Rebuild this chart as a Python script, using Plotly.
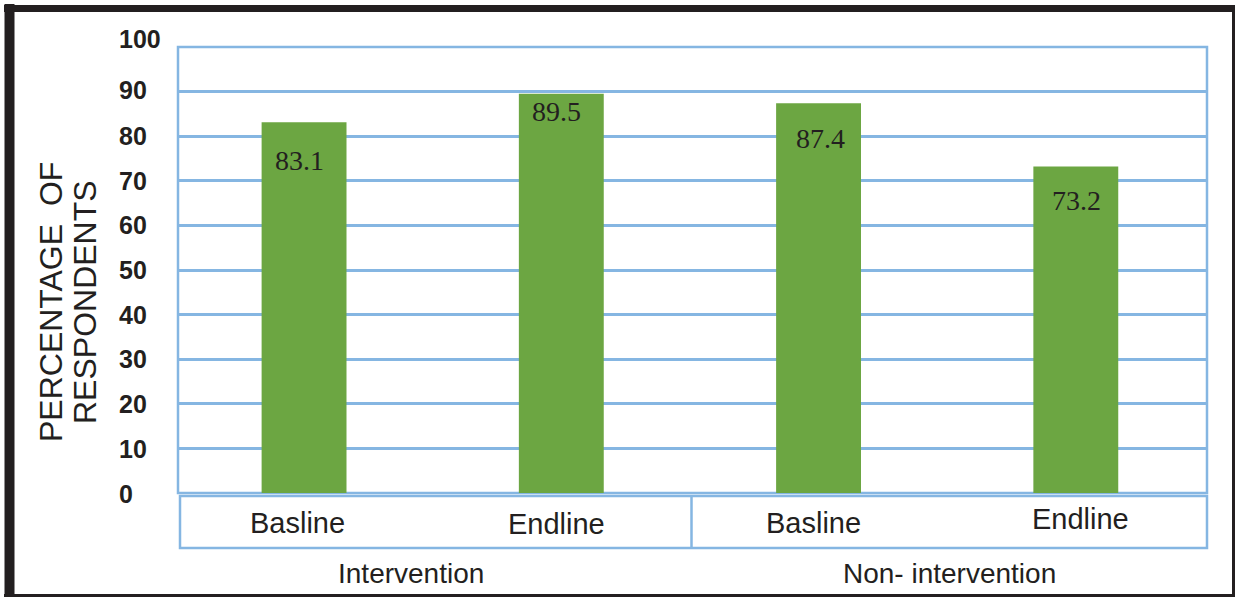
import plotly.graph_objects as go

groups = ["Intervention", "Intervention", "Non- intervention", "Non- intervention"]
phases = ["Basline", "Endline", "Basline", "Endline"]
values = [83.1, 89.5, 87.4, 73.2]
label_text = ["83.1", "89.5", "87.4", "73.2"]
y_ticks = [0, 10, 20, 30, 40, 50, 60, 70, 80, 90, 100]
title_lines = ["PERCENTAGE  OF", "RESPONDENTS"]

# fine placement tweaks (pixels)
label_dx = [-5, -5, 2, 1]
label_dy = [-38, -18, -35, -34]
phase_dx = [-7, -5, -5, 5]
phase_dy = [0, -1, 0, 4]
group_dx = [-24, 0]
tick_dy = [-1, -1, 0, 0, 0, 0, 0, 0, 0, 2, 8]
title_x = [51, 85]

W, H = 1242, 599
L, R, T, B = 178, 35, 47, 106
pw, ph = W - L - R, H - T - B

def px(xp):
    return (xp - L) / pw

def py(yp):
    return (H - B - yp) / ph

GRID = "#85B6E2"
GREEN = "#6CA642"
INK = "#231F20"
SANS = "Liberation Sans, Arial, sans-serif"

cats = [f"{g}|{p}" for g, p in zip(groups, phases)]

fig = go.Figure()
fig.add_trace(go.Bar(x=cats, y=values, marker=dict(color=GREEN, line=dict(width=0)),
                     width=0.33, showlegend=False, hoverinfo="skip"))

shapes = []
annotations = []

# data labels
for c, v, t, dx, dy in zip(cats, values, label_text, label_dx, label_dy):
    annotations.append(dict(x=c, y=v, xref="x", yref="y", text=t, showarrow=False,
                            xanchor="center", yanchor="middle", xshift=dx, yshift=dy,
                            font=dict(family="Liberation Serif", size=28, color=INK)))

# y tick labels (left aligned as in the reference)
for v, dy in zip(y_ticks, tick_dy):
    annotations.append(dict(x=px(117), y=v, xref="paper", yref="y", text=str(v), showarrow=False,
                            xanchor="left", yanchor="middle", yshift=dy,
                            font=dict(family=SANS, size=25, color=INK, weight="bold")))

# plot area border
shapes.append(dict(type="rect", xref="paper", yref="paper", x0=0, x1=1, y0=0, y1=1,
                   line=dict(color=GRID, width=2.5), layer="below"))

# category table
box_top, box_bot = py(496), py(548)
shapes.append(dict(type="rect", xref="paper", yref="paper", x0=px(180), x1=1, y0=box_bot, y1=box_top,
                   line=dict(color=GRID, width=2.5)))
shapes.append(dict(type="line", xref="paper", yref="paper", x0=px(691.5), x1=px(691.5), y0=box_bot, y1=box_top,
                   line=dict(color=GRID, width=2.5)))

for c, p, dx, dy in zip(cats, phases, phase_dx, phase_dy):
    annotations.append(dict(x=c, y=py(523), xref="x", yref="paper", text=p, showarrow=False,
                            xanchor="center", yanchor="middle", xshift=dx, yshift=dy,
                            font=dict(family=SANS, size=29, color=INK)))

seen = []
for g in groups:
    if g not in seen:
        seen.append(g)
for g, dx in zip(seen, group_dx):
    idx = [k for k, gg in enumerate(groups) if gg == g]
    xc = (idx[0] + idx[-1] + 1) / 2 / len(groups)
    annotations.append(dict(x=xc, y=py(573), xref="paper", yref="paper", text=g, showarrow=False,
                            xanchor="center", yanchor="middle", xshift=dx,
                            font=dict(family=SANS, size=28, color=INK)))

# axis title (two lines)
for line, xp in zip(title_lines, title_x):
    annotations.append(dict(x=px(xp), y=py(302), xref="paper", yref="paper",
                            text=line, textangle=-90, showarrow=False,
                            xanchor="center", yanchor="middle",
                            font=dict(family=SANS, size=32, color=INK)))

# outer black frame
shapes.append(dict(type="line", xref="paper", yref="paper", x0=px(9.5), x1=px(9.5), y0=py(4), y1=py(597),
                   line=dict(color=INK, width=10)))
shapes.append(dict(type="line", xref="paper", yref="paper", x0=px(4), x1=px(1235), y0=py(8.5), y1=py(8.5),
                   line=dict(color=INK, width=7)))
shapes.append(dict(type="line", xref="paper", yref="paper", x0=px(1233.5), x1=px(1233.5), y0=py(5), y1=py(597),
                   line=dict(color=INK, width=3)))
shapes.append(dict(type="line", xref="paper", yref="paper", x0=px(4), x1=px(1235), y0=py(595.5), y1=py(595.5),
                   line=dict(color=INK, width=3)))

fig.update_layout(
    width=W, height=H,
    margin=dict(l=L, r=R, t=T, b=B, pad=0),
    paper_bgcolor="white", plot_bgcolor="white",
    shapes=shapes, annotations=annotations,
    xaxis=dict(showticklabels=False, showgrid=False, zeroline=False, showline=False, ticks="",
               categoryorder="array", categoryarray=cats, range=[-0.49, 3.51]),
    yaxis=dict(range=[0, 100], tickvals=y_ticks, showticklabels=False,
               showgrid=True, gridcolor=GRID, gridwidth=2.5, zeroline=False, showline=False,
               ticks=""),
)

fig.write_html("out.html")
